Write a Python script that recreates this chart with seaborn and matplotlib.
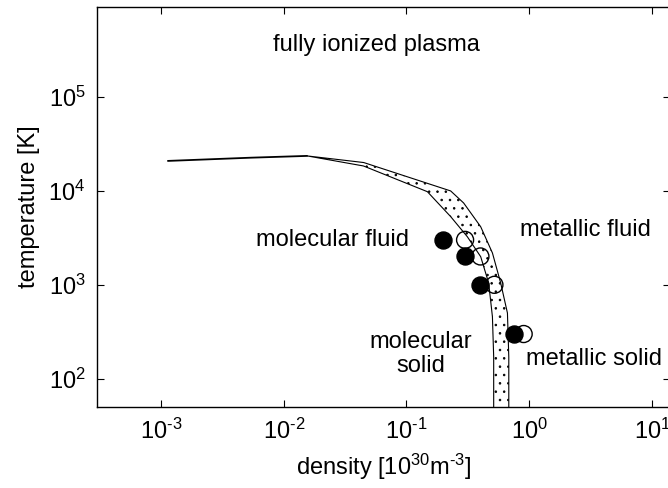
import numpy as np
import matplotlib
matplotlib.use('Agg')
import matplotlib.pyplot as plt
import pandas as pd
import seaborn as sns

# Phase boundary (low-density thin part)
line_density = [1.14e-3, 5.4e-3, 1.55e-2]
line_temp = [2.07e4, 2.24e4, 2.34e4]

# Band: upper/right edge and lower/left edge (density, temperature)
band_upper_density = [1.55e-2, 4.48e-2, 0.229, 0.292, 0.402, 0.501, 0.585, 0.664, 0.681, 0.681]
band_upper_temp = [2.34e4, 1.99e4, 9.93e3, 7.40e3, 4.14e3, 2.18e3, 1.045e3, 501, 171, 40]
band_lower_density = [1.55e-2, 4.46e-2, 0.148, 0.229, 0.313, 0.402, 0.467, 0.501, 0.513, 0.513]
band_lower_temp = [2.34e4, 1.83e4, 9.75e3, 5.30e3, 3.24e3, 1.99e3, 1.045e3, 458, 171, 40]

# Experimental points
filled_density = [0.20, 0.30, 0.40, 0.75]
filled_temp = [3000, 2000, 1000, 300]
open_density = [0.30, 0.40, 0.52, 0.90]
open_temp = [3000, 2000, 1000, 300]

# Region labels
region_text = ['fully ionized plasma', 'molecular fluid', 'metallic fluid',
               'molecular\nsolid', 'metallic solid']
region_x = [0.057, 0.0249, 2.89, 0.130, 3.37]
region_y = [3.53e5, 3.0e3, 3.82e3, 184, 163]

xticks = [1e-3, 1e-2, 1e-1, 1e0, 1e1]
xticklabels = ['$10^{\u20103}$', '$10^{\u20102}$', '$10^{\u20101}$', '$10^{0}$', '$10^{1}$']
yticks = [1e2, 1e3, 1e4, 1e5]
yticklabels = ['$10^{2}$', '$10^{3}$', '$10^{4}$', '$10^{5}$']

sns.set_style('ticks')
plt.rcParams['font.family'] = ['Liberation Sans', 'DejaVu Sans']
plt.rcParams['mathtext.default'] = 'regular'
plt.rcParams['hatch.linewidth'] = 0.6
plt.rcParams['text.color'] = 'black'
plt.rcParams['axes.labelcolor'] = 'black'
plt.rcParams['xtick.color'] = 'black'
plt.rcParams['ytick.color'] = 'black'
plt.rcParams['axes.edgecolor'] = 'black'

fig = plt.figure(figsize=(6.68, 4.88), dpi=100)
ax = fig.add_axes([0.1448, 0.1654, 0.8582, 0.8209])
ax.set_xscale('log')
ax.set_yscale('log')

# Band polygon
poly_x = np.concatenate([band_upper_density, band_lower_density[::-1]])
poly_y = np.concatenate([band_upper_temp, band_lower_temp[::-1]])
ax.fill(poly_x, poly_y, facecolor='white', edgecolor='black', hatch='..', linewidth=0.8)

sns.lineplot(x=line_density, y=line_temp, ax=ax, color='black', linewidth=1.3, sort=False)

pts = pd.DataFrame({'density': filled_density, 'temp': filled_temp})
opn = pd.DataFrame({'density': open_density, 'temp': open_temp})
sns.scatterplot(data=opn, x='density', y='temp', ax=ax, s=150, facecolor='none',
                edgecolor='black', linewidth=1.0, zorder=3)
sns.scatterplot(data=pts, x='density', y='temp', ax=ax, s=150, color='black',
                edgecolor='black', linewidth=1.0, zorder=4)

for t, x, y in zip(region_text, region_x, region_y):
    ax.text(x, y, t, fontsize=17, ha='center', va='center', linespacing=1.15)

ax.set_xlim(3e-4, 14)
ax.set_ylim(50, 9e5)
ax.set_xticks(xticks)
ax.set_xticklabels(xticklabels)
ax.set_yticks(yticks)
ax.set_yticklabels(yticklabels)
ax.minorticks_off()
ax.tick_params(direction='in', top=True, right=True, length=5, width=0.8,
               labelsize=17, pad=8)
for sp in ax.spines.values():
    sp.set_linewidth(1.0)

ax.set_xlabel('density [$10^{30}$m$^{\u20103}$]', fontsize=17, labelpad=6)
ax.set_ylabel('temperature [K]', fontsize=17, labelpad=6)

fig.savefig('out.png', dpi=100)
